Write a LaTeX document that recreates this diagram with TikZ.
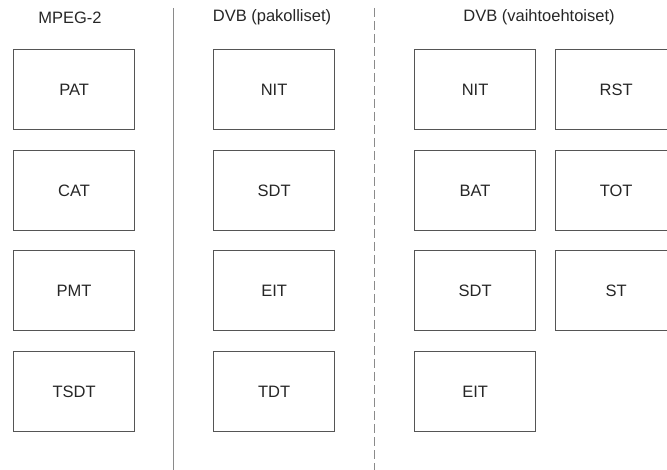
\documentclass[tikz,border=0pt]{standalone}
\usepackage{fontspec}
\setmainfont{Liberation Sans}
\definecolor{boxline}{HTML}{555555}
\definecolor{sepline}{HTML}{8A8A8A}
\definecolor{txt}{HTML}{262626}
\begin{document}
\begin{tikzpicture}[x=1pt,y=-1pt,
  table/.style={draw=boxline, line width=1.2pt, fill=white,
    minimum width=121pt, minimum height=80pt, anchor=north west,
    inner sep=0pt, text=txt, font=\fontsize{16.5}{18}\selectfont},
  heading/.style={text=txt, font=\fontsize{16.5}{18}\selectfont, inner sep=0pt},
  sep/.style={draw=sepline, line width=1.3pt}]
\clip (0,0) rectangle (667,470);
\useasboundingbox (0,0) rectangle (667,470);

% column headings
\node[heading] (h1) at (70,17.5) {MPEG-2};
\node[heading] (h2) at (272,17.5) {DVB (pakolliset)};
\node[heading] (h3) at (539,17.5) {DVB (vaihtoehtoiset)};

% separators between the groups
\coordinate (s1t) at (173.5,8);
\coordinate (s1b) at (173.5,470);
\coordinate (s2t) at (374.5,8);
\coordinate (s2b) at (374.5,470);
\draw[sep] (s1t) -- (s1b);
\draw[sep, dash pattern=on 9pt off 4pt] (s2t) -- (s2b);

% MPEG-2 tables
\node[table] (pat)  at (13,49)  {PAT};
\node[table] (cat)  at (13,150) {CAT};
\node[table] (pmt)  at (13,250) {PMT};
\node[table] (tsdt) at (13,351) {TSDT};

% mandatory DVB tables
\node[table] (nit1) at (213,49)  {NIT};
\node[table] (sdt1) at (213,150) {SDT};
\node[table] (eit1) at (213,250) {EIT};
\node[table] (tdt)  at (213,351) {TDT};

% optional DVB tables
\node[table] (nit2) at (414,49)  {NIT};
\node[table] (bat)  at (414,150) {BAT};
\node[table] (sdt2) at (414,250) {SDT};
\node[table] (eit2) at (414,351) {EIT};
\node[table] (rst)  at (555,49)  {RST};
\node[table] (tot)  at (555,150) {TOT};
\node[table] (st)   at (555,250) {ST};
\end{tikzpicture}
\end{document}
